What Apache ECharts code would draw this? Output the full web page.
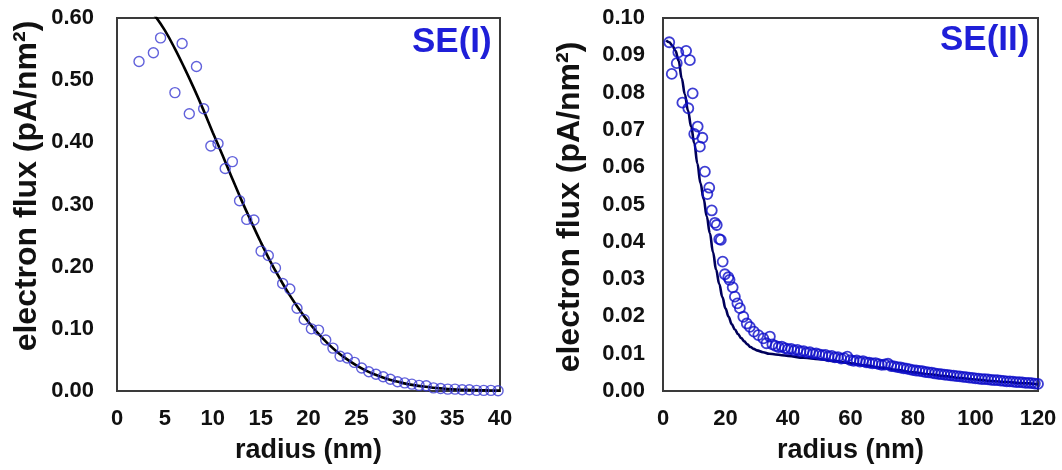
<!DOCTYPE html>
<html>
<head>
<meta charset="utf-8">
<script src="https://cdn.jsdelivr.net/npm/echarts@6/dist/echarts.min.js"></script>
<style>
html,body{margin:0;padding:0;background:#fff;}
#c{width:1062px;height:470px;}
</style>
</head>
<body>
<div id="c"></div>
<script>
// ---- SE(I) panel ----
const radiusI = [2.3, 3.8, 4.55, 6.05, 6.8, 7.55, 8.3, 9.05, 9.8, 10.55, 11.3, 12.05, 12.8, 13.55, 14.3, 15.05, 15.8, 16.55, 17.3, 18.05, 18.8, 19.55, 20.3, 21.05, 21.8, 22.55, 23.3, 24.05, 24.8, 25.55, 26.3, 27.05, 27.8, 28.55, 29.3, 30.05, 30.8, 31.55, 32.3, 33.05, 33.8, 34.55, 35.3, 36.05, 36.8, 37.55, 38.3, 39.05, 39.8];
const fluxI = [0.530, 0.544, 0.568, 0.480, 0.559, 0.446, 0.522, 0.454, 0.394, 0.398, 0.358, 0.369, 0.306, 0.276, 0.275, 0.225, 0.218, 0.198, 0.173, 0.164, 0.133, 0.115, 0.100, 0.098, 0.082, 0.069, 0.056, 0.053, 0.046, 0.037, 0.031, 0.027, 0.023, 0.019, 0.015, 0.013, 0.011, 0.009, 0.0085, 0.005, 0.004, 0.003, 0.003, 0.002, 0.002, 0.001, 0.001, 0.001, 0.0005];
const fitRadiusI = [2, 3, 4, 5, 6, 7, 8, 9, 10, 11, 12, 13, 14, 15, 16, 17, 18, 19, 20, 21, 22, 23, 24, 25, 26, 27, 28, 29, 30, 31, 32, 33, 34, 35, 36, 37, 38, 39, 40];
const fitFluxI = [0.636, 0.622, 0.603, 0.580, 0.552, 0.521, 0.488, 0.453, 0.416, 0.380, 0.343, 0.307, 0.273, 0.240, 0.209, 0.181, 0.155, 0.132, 0.111, 0.0927, 0.0767, 0.0629, 0.0512, 0.0412, 0.0329, 0.0261, 0.0205, 0.0159, 0.0123, 0.0094, 0.0071, 0.0053, 0.0040, 0.0029, 0.0021, 0.0016, 0.0011, 0.0008, 0.0006];
const xTicksI = [0, 40, 5];
const yTicksI = [0, 0.6, 0.1];

// ---- SE(II) panel ----
const radiusII = [2.0, 2.8, 4.4, 4.9, 6.2, 7.4, 8.1, 8.6, 9.5, 10.0, 11.1, 11.8, 12.6, 13.4, 14.2, 14.8, 15.6, 16.6, 17.2, 18.0, 18.5, 19.1, 19.8, 20.9, 21.3, 22.3, 23.0, 23.8, 24.6, 25.7, 26.8, 27.8, 29.1, 30.5, 32.1, 33.1, 34.2, 35.0,
  36, 37, 38, 39, 40, 41, 42, 43, 44, 45, 46, 47, 48, 49, 50, 51, 52, 53, 54, 55, 56, 57, 58, 59, 60, 61, 62, 63, 64, 65, 66, 67, 68, 69, 70, 71, 72, 73, 74, 75, 76, 77, 78, 79, 80, 81, 82, 83, 84, 85, 86, 87, 88, 89, 90, 91, 92, 93, 94, 95, 96, 97, 98, 99, 100, 101, 102, 103, 104, 105, 106, 107, 108, 109, 110, 111, 112, 113, 114, 115, 116, 117, 118, 119, 120];
const fluxII = [0.0935, 0.0850, 0.0879, 0.0908, 0.0773, 0.0912, 0.0758, 0.0887, 0.0798, 0.0689, 0.0709, 0.0655, 0.0679, 0.0588, 0.0528, 0.0545, 0.0484, 0.0451, 0.0445, 0.0407, 0.0405, 0.0347, 0.0313, 0.0305, 0.0298, 0.0278, 0.0253, 0.0235, 0.0222, 0.0199, 0.0181, 0.0172, 0.0159, 0.0150, 0.0141, 0.0128, 0.0146, 0.0125,
  0.0121, 0.0118, 0.0119, 0.0115, 0.0112, 0.0113, 0.0109, 0.0110, 0.0106, 0.0107, 0.0103, 0.0104, 0.0100, 0.0101, 0.0098, 0.0096, 0.0097, 0.0093, 0.0094, 0.0090, 0.0091, 0.0087, 0.0088, 0.0092, 0.0083, 0.0081, 0.0082, 0.0079, 0.0080, 0.0077, 0.0076, 0.0074, 0.0075, 0.0072, 0.0070, 0.0071, 0.0073, 0.0067, 0.0066, 0.0064, 0.0063, 0.0061, 0.0060, 0.0058, 0.0056, 0.0055, 0.0054, 0.0053, 0.0051, 0.0050, 0.0049, 0.0047, 0.0046, 0.0045, 0.0044, 0.0043, 0.0042, 0.0041, 0.0040, 0.0039, 0.0038, 0.0037, 0.0036, 0.0035, 0.0034, 0.0033, 0.0032, 0.0032, 0.0031, 0.0030, 0.0029, 0.0029, 0.0028, 0.0027, 0.0026, 0.0026, 0.0025, 0.0024, 0.0024, 0.0023, 0.0022, 0.0022, 0.0021, 0.0020, 0.0019];
const fitRadiusII = [1, 2, 3, 4, 5, 6, 7, 8, 9, 10, 11, 12, 13, 14, 15, 16, 17, 18, 19, 20, 21, 22, 23, 24, 25, 26, 27, 28, 29, 30, 32, 34, 36, 38, 40, 45, 50, 55, 60, 65, 70, 75, 80, 85, 90, 95, 100, 105, 110, 115, 120];
const fitFluxII = [0.0940, 0.0935, 0.0926, 0.0912, 0.0885, 0.0838, 0.0795, 0.0752, 0.0709, 0.0665, 0.0610, 0.0557, 0.0515, 0.0468, 0.0423, 0.0372, 0.0325, 0.0287, 0.0252, 0.0221, 0.0199, 0.0179, 0.0165, 0.0153, 0.0142, 0.0133, 0.0125, 0.0118, 0.0113, 0.0109, 0.0104, 0.0100, 0.0098, 0.0096, 0.0094, 0.0089, 0.0085, 0.0080, 0.0074, 0.0068, 0.0062, 0.0056, 0.0050, 0.0045, 0.0040, 0.0035, 0.0031, 0.0027, 0.0024, 0.0021, 0.0018];
const xTicksII = [0, 120, 20];
const yTicksII = [0, 0.1, 0.01];

const yTitle = 'electron flux (pA/nm\u00B2)';
const xTitle = 'radius (nm)';
const panelLabels = ['SE(I)', 'SE(II)'];

const FONT = '"Liberation Sans", Arial, sans-serif';
const pairs = (xs, ys) => xs.map((x, i) => [x, ys[i]]);

function xAxis(idx, t) {
  return {
    gridIndex: idx, type: 'value', min: t[0], max: t[1], interval: t[2],
    name: xTitle, nameLocation: 'middle', nameGap: 46,
    nameTextStyle: { fontFamily: FONT, fontWeight: 'bold', fontSize: 27, color: '#111' },
    axisLine: { show: true, lineStyle: { color: '#3a3a3a', width: 2 } },
    axisTick: { show: false }, splitLine: { show: false },
    axisLabel: { fontFamily: FONT, fontWeight: 'bold', fontSize: 22, color: '#111', margin: 17 }
  };
}
function yAxis(idx, t, margin) {
  return {
    gridIndex: idx, type: 'value', min: t[0], max: t[1], interval: t[2],
    axisLine: { show: true, lineStyle: { color: '#3a3a3a', width: 2 } },
    axisTick: { show: false }, splitLine: { show: false },
    axisLabel: { fontFamily: FONT, fontWeight: 'bold', fontSize: 22, color: '#111', margin: margin,
      formatter: v => v.toFixed(2) }
  };
}
function yName(x, y) {
  return { type: 'text', x: x, y: y, rotation: Math.PI / 2,
    style: { text: yTitle, font: 'bold 32px ' + FONT, fill: '#111', textAlign: 'center', textVerticalAlign: 'middle' } };
}

const chart = echarts.init(document.getElementById('c'), null, { renderer: 'canvas' });
chart.setOption({
  animation: false,
  backgroundColor: '#fff',
  title: [
    { text: panelLabels[0], left: 407, top: 20, textStyle: { fontFamily: FONT, fontWeight: 'bold', fontSize: 35, color: '#1f1fd8' } },
    { text: panelLabels[1], left: 935, top: 18, textStyle: { fontFamily: FONT, fontWeight: 'bold', fontSize: 35, color: '#1f1fd8' } }
  ],
  graphic: [yName(27, 186), yName(570, 207)],
  grid: [
    { left: 117, top: 18, width: 383, height: 373, show: true, borderColor: '#3a3a3a', borderWidth: 2, backgroundColor: 'transparent' },
    { left: 663, top: 18, width: 375, height: 373, show: true, borderColor: '#3a3a3a', borderWidth: 2, backgroundColor: 'transparent' }
  ],
  xAxis: [xAxis(0, xTicksI), xAxis(1, xTicksII)],
  yAxis: [yAxis(0, yTicksI, 23), yAxis(1, yTicksII, 18)],
  series: [
    { type: 'scatter', xAxisIndex: 0, yAxisIndex: 0, data: pairs(radiusI, fluxI), symbol: 'circle', symbolSize: 10,
      itemStyle: { color: 'transparent', borderColor: '#3a3ad2', borderWidth: 1.4 }, z: 3 },
    { type: 'line', xAxisIndex: 0, yAxisIndex: 0, data: pairs(fitRadiusI, fitFluxI), showSymbol: false, smooth: 0.4, clip: true,
      lineStyle: { color: '#000', width: 2.6 }, z: 2 },
    { type: 'scatter', xAxisIndex: 1, yAxisIndex: 1, data: pairs(radiusII, fluxII), symbol: 'circle', symbolSize: 10,
      itemStyle: { color: 'transparent', borderColor: '#0c0cc8', borderWidth: 1.8 }, z: 3 },
    { type: 'line', xAxisIndex: 1, yAxisIndex: 1, data: pairs(fitRadiusII, fitFluxII), showSymbol: false, smooth: 0.4, smoothMonotone: 'x', clip: true,
      lineStyle: { color: '#00005a', width: 2.6 }, z: 2 }
  ]
});
</script>
</body>
</html>
